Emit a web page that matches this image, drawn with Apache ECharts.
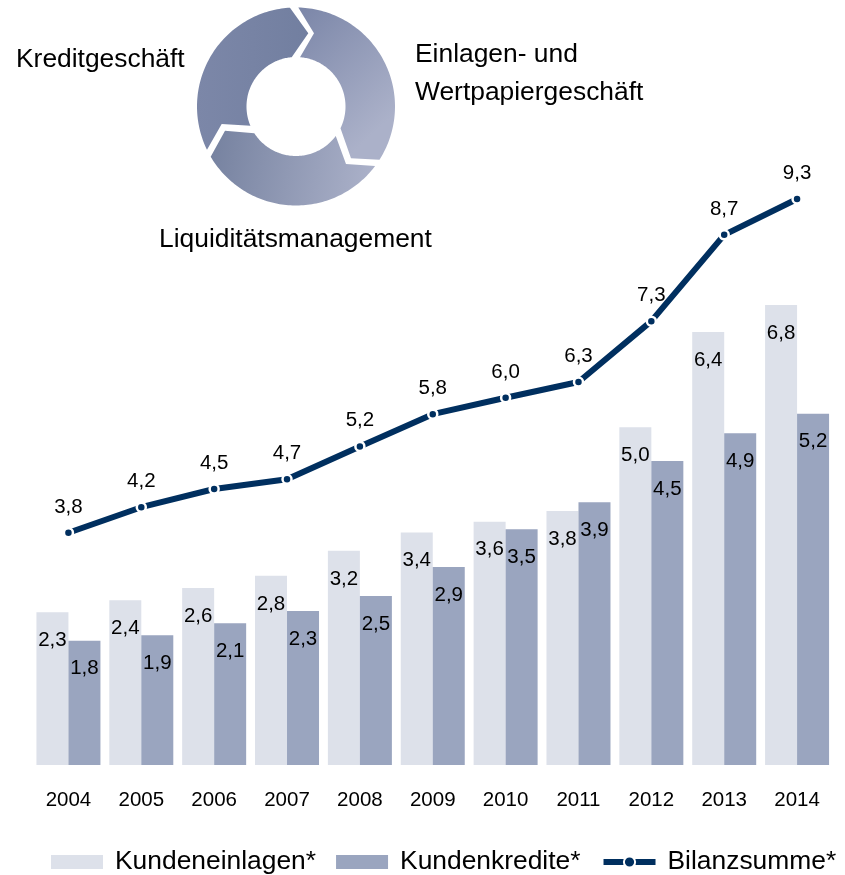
<!DOCTYPE html>
<html><head><meta charset="utf-8">
<script src="https://cdn.jsdelivr.net/npm/echarts@6/dist/echarts.min.js"></script>
<style>html,body{margin:0;padding:0;background:#fff}#c{width:845px;height:875px}</style>
</head><body><div id="c"></div>
<script>
const years = ['2004','2005','2006','2007','2008','2009','2010','2011','2012','2013','2014'];
const kundeneinlagen = [2.26,2.44,2.62,2.80,3.17,3.44,3.60,3.76,5.00,6.41,6.81];
const kundenkredite = [1.84,1.92,2.10,2.28,2.50,2.93,3.49,3.89,4.50,4.91,5.20];
const bilanzsumme = [3.82,4.24,4.54,4.70,5.24,5.77,6.04,6.30,7.30,8.72,9.31];
const font = '"Liberation Sans", Arial, sans-serif';
const comma = p => p.value.toFixed(1).replace('.', ',');
const grad = (x0,y0,x,y,a,b) => new echarts.graphic.LinearGradient(x0,y0,x,y,[{offset:0,color:a},{offset:1,color:b}]);
// decorative ring: arc between two points, around the ring centre, in the given direction (1 clockwise on screen, -1 counter)
const CX = 296, CY = 106.5;
function arc(p, q, r, dir){
  let a = Math.atan2(p[1]-CY, p[0]-CX), b = Math.atan2(q[1]-CY, q[0]-CX);
  if (dir > 0 && b < a) b += 2*Math.PI;
  if (dir < 0 && b > a) b -= 2*Math.PI;
  const pts = [], n = 90;
  for (let i=0;i<=n;i++){ const t = a+(b-a)*i/n; pts.push([CX+r*Math.cos(t), CY+r*Math.sin(t)]); }
  return pts;
}
const segA = [[308.3,33.3], ...arc([291.7,57.3],[250,126],49.5,-1), [221.7,124], ...arc([206.7,150],[290,8.3],99,1)];
const segB = [[314,33.3], ...arc([300,57.3],[340.7,128.3],49.5,1), [351,158.3], ...arc([380,160],[298.3,7.7],99,-1)];
const segC = [[225,130.7], ...arc([254,133.3],[336.7,136.7],49.5,-1), [346,164], ...arc([375,166],[210.7,156.7],99,1)];
const chart = echarts.init(document.getElementById('c'), null, {renderer:'canvas'});
const barLabel = {show:true, position:'insideTop', distance:17.5, color:'#000', fontSize:20.5, fontFamily:font, formatter:comma};
chart.setOption({
  animation:false,
  backgroundColor:'#fff',
  grid:{left:32, right:11.5, top:157, bottom:110, containLabel:false},
  xAxis:{type:'category', data:years, axisLine:{show:false}, axisTick:{show:false},
    axisLabel:{color:'#000', fontSize:20.5, fontFamily:font, margin:25}},
  yAxis:[{type:'value', min:0, max:9, show:false, splitLine:{show:false}},
         {type:'value', min:0, max:10, show:false, splitLine:{show:false}}],
  legend:{left:51, top:849, itemWidth:52, itemHeight:14, itemGap:20, padding:0,
    textStyle:{color:'#000', fontSize:26.4, fontFamily:font, padding:[0,0,0,7]},
    data:[{name:'Kundeneinlagen*', icon:'rect'},{name:'Kundenkredite*', icon:'rect'},
      {name:'Bilanzsumme*', lineStyle:{width:6}, symbolSize:9}]},
  series:[
    {name:'Kundeneinlagen*', type:'bar', data:kundeneinlagen, barWidth:32, barGap:'0%', itemStyle:{color:'#dde1ea'}, label:barLabel},
    {name:'Kundenkredite*', type:'bar', data:kundenkredite, barWidth:32, itemStyle:{color:'#9aa5bf'}, label:barLabel},
    {name:'Bilanzsumme*', type:'line', yAxisIndex:1, data:bilanzsumme, symbol:'circle', symbolSize:9, showAllSymbol:true,
      lineStyle:{color:'#002f5f', width:6, cap:'butt'},
      itemStyle:{color:'#002f5f', borderColor:'#fff', borderWidth:2.5},
      label:{show:true, position:'top', distance:9.5, color:'#000', fontSize:20.5, fontFamily:font, formatter:comma}, z:5}
  ],
  graphic:[
    {type:'polygon', shape:{points:segA}, style:{fill:grad(0,0,1,0,'#7c87a8','#727fa0')}},
    {type:'polygon', shape:{points:segB}, style:{fill:grad(0,0,1,0.7,'#7b86a8','#abb1c9')}},
    {type:'polygon', shape:{points:segC}, style:{fill:grad(0,0,1,0.4,'#75819f','#abb1c9')}},
    {type:'text', left:16, top:47, style:{text:'Kreditgeschäft', fill:'#000', fontSize:26.4, fontFamily:font}},
    {type:'text', left:415, top:42, style:{text:'Einlagen- und', fill:'#000', fontSize:26.4, fontFamily:font}},
    {type:'text', left:415, top:80, style:{text:'Wertpapiergeschäft', fill:'#000', fontSize:26.4, fontFamily:font}},
    {type:'text', left:159, top:227, style:{text:'Liquiditätsmanagement', fill:'#000', fontSize:26.4, fontFamily:font}}
  ]
});
</script></body></html>
